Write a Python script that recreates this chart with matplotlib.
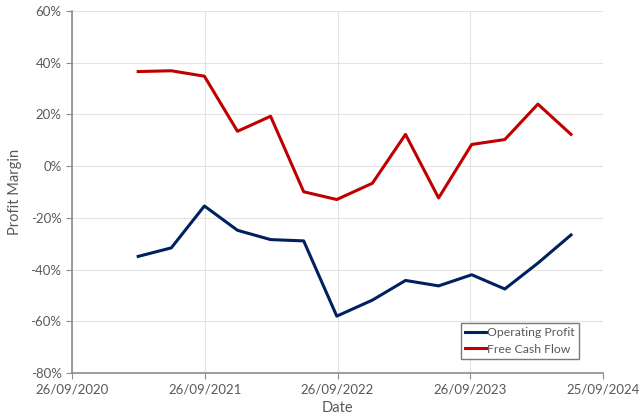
import matplotlib
matplotlib.use("Agg")
import matplotlib.pyplot as plt
import matplotlib.dates as mdates
from matplotlib.ticker import FuncFormatter
from datetime import date

# quarter end dates
dates = [date(2021, 3, 27), date(2021, 6, 26), date(2021, 9, 25), date(2021, 12, 25),
         date(2022, 3, 26), date(2022, 6, 25), date(2022, 9, 24), date(2022, 12, 31),
         date(2023, 4, 1), date(2023, 7, 1), date(2023, 9, 30), date(2023, 12, 30),
         date(2024, 3, 30), date(2024, 6, 29)]

operating_profit = [-34.9, -31.6, -15.4, -24.8, -28.4, -28.9, -58.0,
                    -51.8, -44.2, -46.3, -42.0, -47.5, -37.5, -26.6]
free_cash_flow = [36.6, 36.9, 34.8, 13.5, 19.3, -9.9, -12.9,
                  -6.6, 12.3, -12.3, 8.4, 10.3, 24.0, 12.3]

xticks = [date(2020, 9, 26), date(2021, 9, 26), date(2022, 9, 26),
          date(2023, 9, 26), date(2024, 9, 25)]

plt.rcParams['font.family'] = ['Lato', 'DejaVu Sans']
grey = '#595959'

fig = plt.figure(figsize=(6.4, 4.17), dpi=100)
ax = fig.add_axes([0.1125, 0.1055, 0.8297, 0.868])

ax.plot(dates, operating_profit, color='#002060', lw=2.2, label='Operating Profit')
ax.plot(dates, free_cash_flow, color='#C00000', lw=2.2, label='Free Cash Flow')

ax.set_xlim(mdates.date2num(xticks[0]), mdates.date2num(xticks[-1]))
ax.set_ylim(-80, 60)
ax.set_xticks(xticks)
ax.xaxis.set_major_formatter(mdates.DateFormatter('%d/%m/%Y'))
ax.set_yticks(range(-80, 61, 20))
ax.yaxis.set_major_formatter(FuncFormatter(lambda v, p: f'{v:.0f}%'))

ax.grid(True, color='#e3e3e3', lw=0.8)
ax.set_axisbelow(True)
for s in ['top', 'right']:
    ax.spines[s].set_visible(False)
for s in ['left', 'bottom']:
    ax.spines[s].set_color('#8c8c8c')
    ax.spines[s].set_linewidth(1.2)
ax.tick_params(colors=grey, labelsize=9.5, length=4, direction='out')
ax.tick_params(axis='both', color='#8c8c8c')

ax.set_xlabel('Date', color=grey, fontsize=10.5, labelpad=4)
ax.set_ylabel('Profit Margin', color=grey, fontsize=10.5, labelpad=6)

leg = ax.legend(loc='lower right', bbox_to_anchor=(0.967, 0.022), fontsize=8.8,
                frameon=True, fancybox=False, handlelength=1.7, handletextpad=0.1,
                borderpad=0.35, labelspacing=0.45, labelcolor=grey)
leg.get_frame().set_edgecolor('#595959')
leg.get_frame().set_linewidth(1.0)

fig.savefig('out.png', dpi=100)
